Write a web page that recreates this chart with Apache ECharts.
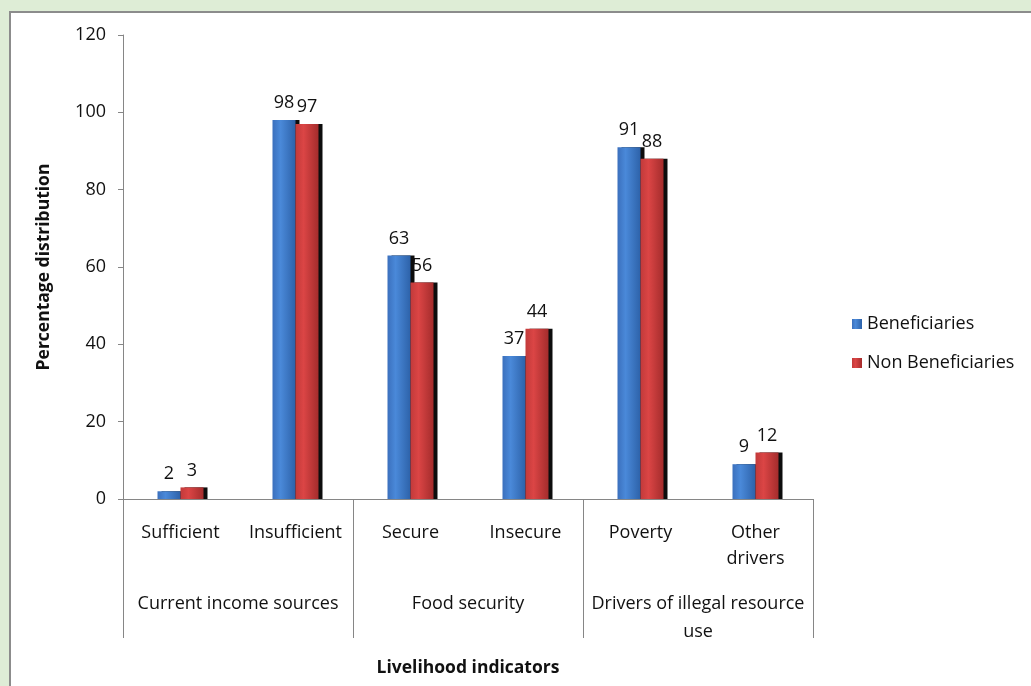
<!DOCTYPE html>
<html>
<head>
<meta charset="utf-8">
<script src="https://cdn.jsdelivr.net/npm/echarts@6/dist/echarts.min.js"></script>
<style>
  html, body { margin: 0; padding: 0; background: #deedd6; }
  #panel { position: absolute; left: 9px; top: 11px; width: 1030px; height: 680px;
           background: #fff; border-left: 2px solid #8c8c8c; border-top: 2px solid #8c8c8c; }
  #chart { position: absolute; left: 0; top: 0; width: 1031px; height: 686px; }
</style>
</head>
<body>
<div id="panel"></div>
<div id="chart"></div>
<script>
// chart data
const categories = ['Sufficient', 'Insufficient', 'Secure', 'Insecure', 'Poverty', 'Other\ndrivers']
const groups = ['Current income sources', 'Food security', 'Drivers of illegal resource\nuse']
const beneficiaries = [2, 98, 63, 37, 91, 9]
const nonBeneficiaries = [3, 97, 56, 44, 88, 12]
const yTicks = [0, 20, 40, 60, 80, 100, 120]

const fontFamily = '"Open Sans", "Liberation Sans", sans-serif'
const axisGray = '#868686'

function barColor(edge, mid, dark) {
  return new echarts.graphic.LinearGradient(0, 0, 1, 0, [
    { offset: 0, color: edge },
    { offset: 0.35, color: mid },
    { offset: 1, color: dark }
  ])
}

const labelStyle = {
  show: true,
  position: 'top',
  distance: 8,
  color: '#111',
  fontSize: 18,
  fontFamily: fontFamily
}

const option = {
  animation: false,
  textStyle: { fontFamily: fontFamily },
  grid: { left: 123, right: 218, top: 35, bottom: 187 },
  legend: {
    orient: 'vertical',
    left: 847,
    top: 310,
    itemWidth: 10,
    itemHeight: 10,
    itemGap: 21,
    icon: 'rect',
    textStyle: { fontSize: 18, color: '#111', fontFamily: fontFamily },
    data: ['Beneficiaries', 'Non Beneficiaries']
  },
  xAxis: [
    {
      type: 'category',
      data: categories,
      position: 'bottom',
      axisLine: { lineStyle: { color: axisGray } },
      axisTick: { show: false },
      axisLabel: { interval: 0, margin: 21, fontSize: 18, color: '#111', lineHeight: 26 }
    },
    {
      type: 'category',
      data: groups,
      position: 'bottom',
      name: 'Livelihood indicators',
      nameLocation: 'middle',
      nameGap: 160,
      nameTextStyle: { fontSize: 17.5, fontWeight: 'bold', color: '#111' },
      axisLine: { show: false },
      axisTick: { show: true, length: 139, lineStyle: { color: axisGray } },
      axisLabel: { interval: 0, margin: 91, fontSize: 18, color: '#111', lineHeight: 28 }
    }
  ],
  yAxis: {
    type: 'value',
    min: yTicks[0],
    max: yTicks[yTicks.length - 1],
    interval: 20,
    name: 'Percentage distribution',
    nameLocation: 'middle',
    nameGap: 70,
    nameTextStyle: { fontSize: 17.5, fontWeight: 'bold', color: '#111' },
    splitLine: { show: false },
    axisLine: { show: true, lineStyle: { color: axisGray } },
    axisTick: { show: true, length: 5, lineStyle: { color: axisGray } },
    axisLabel: { margin: 17, fontSize: 18, color: '#111' }
  },
  series: [
    {
      name: 'Beneficiaries',
      type: 'bar',
      xAxisIndex: 0,
      barWidth: '20%',
      barGap: '0%',
      data: beneficiaries,
      label: labelStyle,
      itemStyle: {
        color: barColor('#3b70bd', '#4a89d9', '#2d62a9'),
        shadowColor: 'rgba(0,0,0,0.95)',
        shadowOffsetX: 4,
        shadowOffsetY: 0
      }
    },
    {
      name: 'Non Beneficiaries',
      type: 'bar',
      xAxisIndex: 0,
      barWidth: '20%',
      barGap: '0%',
      data: nonBeneficiaries,
      label: labelStyle,
      itemStyle: {
        color: barColor('#c23a3a', '#db4545', '#a42c2c'),
        shadowColor: 'rgba(0,0,0,0.95)',
        shadowOffsetX: 4,
        shadowOffsetY: 0
      }
    }
  ]
}

const chart = echarts.init(document.getElementById('chart'))
chart.setOption(option)
window.onresize = function () {
  chart.resize()
}
</script>
</body>
</html>
